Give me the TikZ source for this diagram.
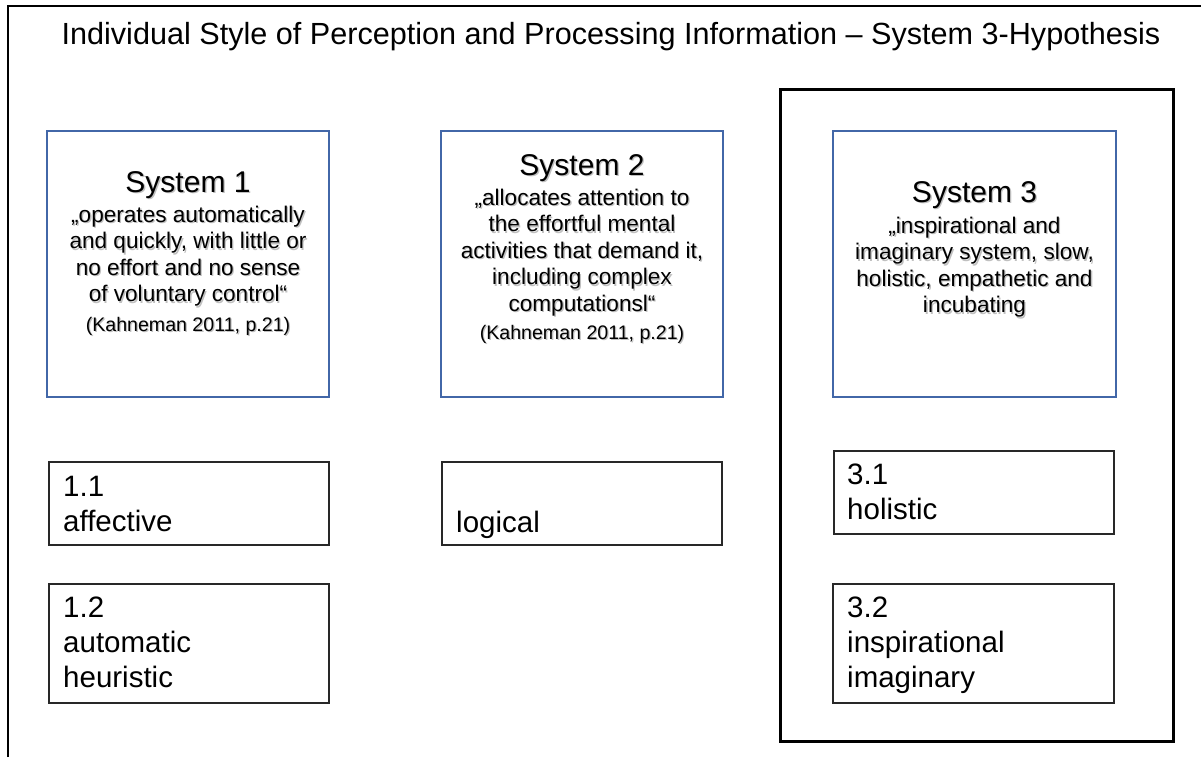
\documentclass[tikz,border=0pt]{standalone}
\usepackage{fontspec}
\setmainfont{Liberation Sans}
\definecolor{boxblue}{RGB}{66,103,168}
\definecolor{itemgray}{RGB}{40,40,40}
\begin{document}
\begin{tikzpicture}[x=1pt,y=-1pt,
  bluebox/.style={draw=boxblue, line width=1.5pt, inner sep=0pt, outer sep=0pt},
  itembox/.style={draw=itemgray, line width=1.2pt, inner sep=0pt, outer sep=0pt},
  framebox/.style={draw=black, line width=3pt, inner sep=0pt, outer sep=0pt},
  titletext/.style={font=\fontsize{30.6}{36}\selectfont, inner sep=0pt, anchor=base},
  headtext/.style={font=\fontsize{30}{34}\selectfont, inner sep=0pt, anchor=base},
  bodytext/.style={font=\fontsize{22.6}{26.5}\selectfont, inner sep=0pt, align=center, anchor=north},
  citetext/.style={font=\fontsize{19.6}{23}\selectfont, inner sep=0pt, anchor=base},
  shadowed/.style={text=black!45, opacity=0.55, xshift=1.3pt, yshift=-1.3pt},
  itemtext/.style={font=\fontsize{29.5}{34.8}\selectfont, inner sep=0pt, align=left, anchor=north west},
  itemsingle/.style={font=\fontsize{29.5}{34.8}\selectfont, inner sep=0pt, anchor=base west}
]
\useasboundingbox (0,0) rectangle (1201,757);
% outer frame
\draw[line width=2pt] (8,757) -- (8,6) -- (1201,6);
% title
\node[titletext] (title) at (611,45) {Individual Style of Perception and Processing Information – System 3-Hypothesis};
% hypothesis frame
\node[framebox, minimum width=393pt, minimum height=651pt] (hyp) at (976.5,415.5) {};
% system boxes
\node[bluebox, minimum width=282pt, minimum height=266pt] (sys1) at (188,264) {};
\node[bluebox, minimum width=282pt, minimum height=266pt] (sys2) at (582,264) {};
\node[bluebox, minimum width=283pt, minimum height=266pt] (sys3) at (974.5,264) {};
% system text shadows
\node[headtext, shadowed] (s1hs) at (188,192.5) {System 1};
\node[bodytext, shadowed] (s1bs) at (188,205.8) {„operates automatically\\and quickly, with little or\\no effort and no sense\\of voluntary control“};
\node[citetext, shadowed] (s1cs) at (188,331) {(Kahneman 2011, p.21)};
\node[headtext, shadowed] (s2hs) at (582,175.5) {System 2};
\node[bodytext, shadowed] (s2bs) at (582,188.8) {„allocates attention to\\the effortful mental\\activities that demand it,\\including complex\\computationsl“};
\node[citetext, shadowed] (s2cs) at (582,339) {(Kahneman 2011, p.21)};
\node[headtext, shadowed] (s3hs) at (974.5,202.5) {System 3};
\node[bodytext, shadowed] (s3bs) at (974.5,216.8) {„inspirational and\\imaginary system, slow,\\holistic, empathetic and\\incubating};
% system texts
\node[headtext] (s1h) at (188,192.5) {System 1};
\node[bodytext] (s1b) at (188,205.8) {„operates automatically\\and quickly, with little or\\no effort and no sense\\of voluntary control“};
\node[citetext] (s1c) at (188,331) {(Kahneman 2011, p.21)};
\node[headtext] (s2h) at (582,175.5) {System 2};
\node[bodytext] (s2b) at (582,188.8) {„allocates attention to\\the effortful mental\\activities that demand it,\\including complex\\computationsl“};
\node[citetext] (s2c) at (582,339) {(Kahneman 2011, p.21)};
\node[headtext] (s3h) at (974.5,202.5) {System 3};
\node[bodytext] (s3b) at (974.5,216.8) {„inspirational and\\imaginary system, slow,\\holistic, empathetic and\\incubating};
% item boxes
\node[itembox, minimum width=280pt, minimum height=83pt] (i11) at (189,503.5) {};
\node[itembox, minimum width=280pt, minimum height=83pt] (ilog) at (582,503.5) {};
\node[itembox, minimum width=280pt, minimum height=83pt] (i31) at (974,492.5) {};
\node[itembox, minimum width=280pt, minimum height=119pt] (i12) at (189,643.5) {};
\node[itembox, minimum width=281pt, minimum height=119pt] (i32) at (973.5,643.5) {};
% item texts
\node[itemtext] (t11) at (63,475.9) {1.1\\affective};
\node[itemsingle] (tlog) at (456,532) {logical};
\node[itemtext] (t31) at (847,463.9) {3.1\\holistic};
\node[itemtext] (t12) at (63,596.9) {1.2\\automatic\\heuristic};
\node[itemtext] (t32) at (847,596.9) {3.2\\inspirational\\imaginary};
\end{tikzpicture}
\end{document}
